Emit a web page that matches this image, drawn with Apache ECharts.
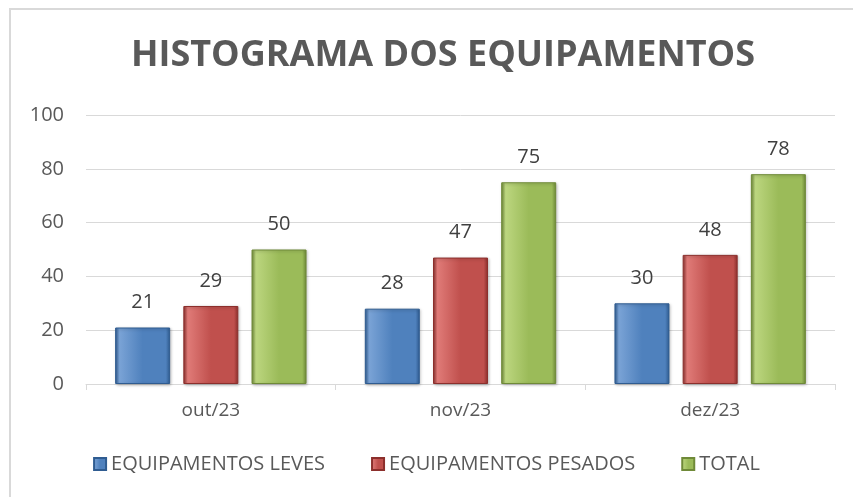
<!DOCTYPE html>
<html>
<head>
<meta charset="utf-8">
<script src="https://cdn.jsdelivr.net/npm/echarts@6/dist/echarts.min.js"></script>
<style>
html, body { margin: 0; padding: 0; background: #fff; }
#chart { width: 853px; height: 497px; }
</style>
</head>
<body>
<div id="chart"></div>
<script>
var meses = ['out/23', 'nov/23', 'dez/23'];
var leves = [21, 28, 30];
var pesados = [29, 47, 48];
var total = [50, 75, 78];
var yTicks = [0, 20, 40, 60, 80, 100];

var chart = echarts.init(document.getElementById('chart'));

function bevel(light, base, dark) {
    return {
        type: 'linear', x: 0, y: 0, x2: 1, y2: 0,
        colorStops: [
            { offset: 0, color: dark },
            { offset: 0.08, color: light },
            { offset: 0.5, color: base },
            { offset: 0.92, color: base },
            { offset: 1, color: dark }
        ]
    };
}

var txt = '#595959';
var fontNarrow = '"Liberation Sans Narrow", "Open Sans", sans-serif';

function serie(nome, dados, light, base, dark) {
    return {
        name: nome,
        type: 'bar',
        data: dados,
        barWidth: 55,
        barGap: '24%',
        itemStyle: {
            color: bevel(light, base, dark),
            borderColor: dark,
            borderWidth: 1,
            shadowColor: 'rgba(0,0,0,0.25)',
            shadowBlur: 3,
            shadowOffsetX: 1,
            shadowOffsetY: 1
        },
        label: {
            show: true,
            position: 'top',
            distance: 15,
            color: '#404040',
            fontSize: 20,
            fontFamily: '"Open Sans", sans-serif'
        }
    };
}

var option = {
    animation: false,
    graphic: [{
        type: 'rect',
        shape: { x: 10, y: 9, width: 900, height: 600 },
        style: { fill: 'none', stroke: '#d9d9d9', lineWidth: 2 },
        silent: true
    }],
    title: {
        text: 'HISTOGRAMA DOS EQUIPAMENTOS',
        left: 438,
        textAlign: 'center',
        top: 33,
        textStyle: {
            color: txt,
            fontSize: 36,
            fontWeight: 'bold',
            fontFamily: '"Open Sans", sans-serif'
        }
    },
    legend: {
        bottom: 18,
        left: 'center',
        itemWidth: 12,
        itemHeight: 12,
        itemGap: 46,
        itemTextGap: 3,
        icon: 'rect',
        textStyle: { color: txt, fontSize: 20, fontFamily: fontNarrow }
    },
    grid: { left: 86, right: 18, top: 115, bottom: 113 },
    xAxis: {
        type: 'category',
        data: meses,
        axisLine: { lineStyle: { color: '#d9d9d9', width: 1 } },
        axisTick: { show: true, length: 6, lineStyle: { color: '#d9d9d9' } },
        axisLabel: { color: txt, fontSize: 19, margin: 17, fontFamily: '"Open Sans", sans-serif' }
    },
    yAxis: {
        type: 'value',
        min: yTicks[0],
        max: yTicks[yTicks.length - 1],
        interval: 20,
        axisLine: { show: false },
        axisTick: { show: false },
        splitLine: { lineStyle: { color: '#d9d9d9', width: 1 } },
        axisLabel: { color: txt, fontSize: 20, margin: 22, fontFamily: '"Open Sans", sans-serif' }
    },
    series: [
        serie('EQUIPAMENTOS LEVES', leves, '#7aa3d6', '#4f81bd', '#2f5c91'),
        serie('EQUIPAMENTOS PESADOS', pesados, '#e07b78', '#c0504d', '#8c2f2c'),
        serie('TOTAL', total, '#bcd67f', '#9bbb59', '#6f8a38')
    ]
};

chart.setOption(option);
</script>
</body>
</html>
